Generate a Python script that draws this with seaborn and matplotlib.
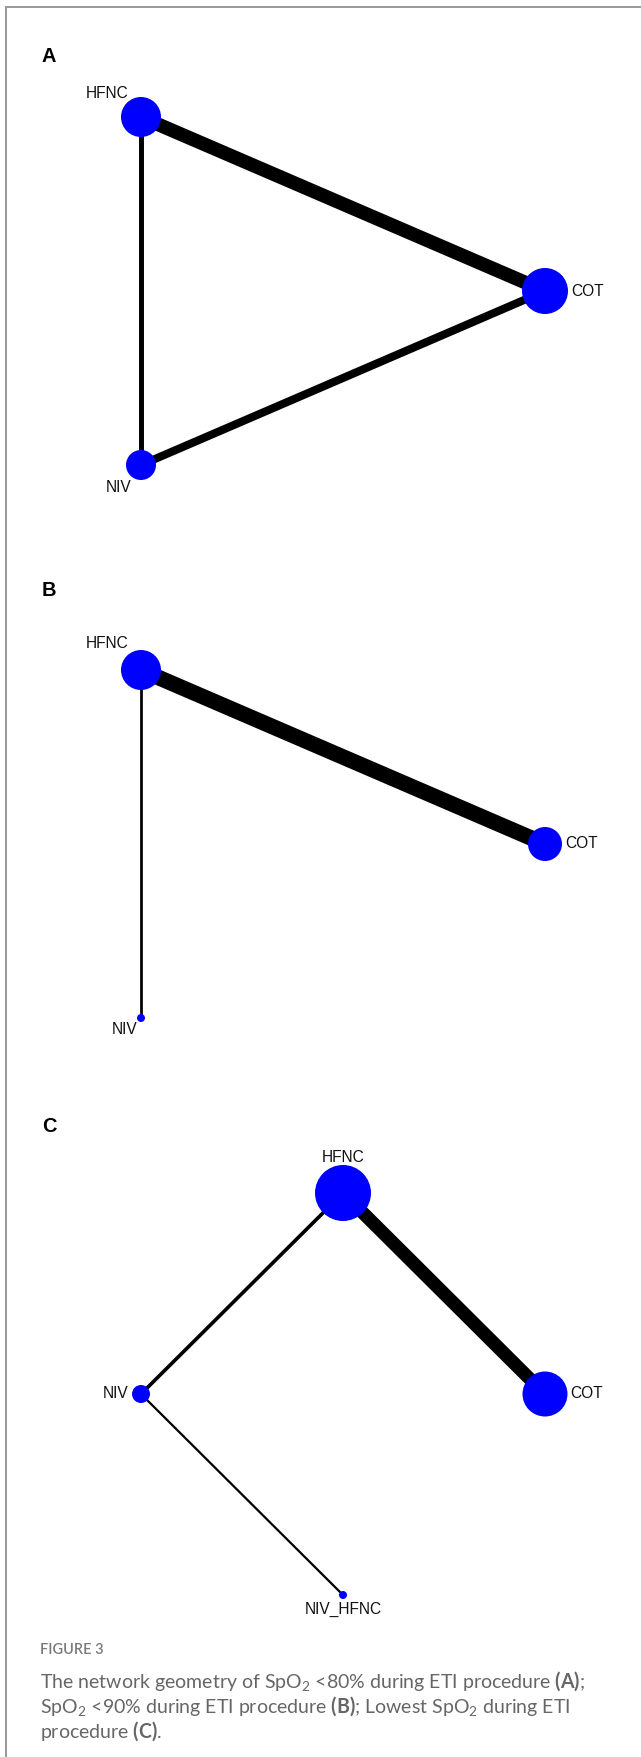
import pandas as pd
import seaborn as sns
import matplotlib.pyplot as plt
from matplotlib.patches import Rectangle

"""
Network geometry plots (three panels) redrawn from a netgraph-style figure.
Node size ~ sample size, edge width ~ amount of evidence between the pair.
"""

W, H = 641, 1757
DPI = 72  # 1 pt == 1 px, makes sizes easy to reason about

# ---- panel A: SpO2 <80%
a_nodes = ["HFNC", "COT", "NIV"]
a_x = [-0.5, 1.0, -0.5]
a_y = [0.866, 0.0, -0.866]
a_node_size = [2.0, 2.3, 1.5]
a_edge_from = ["HFNC", "HFNC", "NIV"]
a_edge_to = ["COT", "NIV", "COT"]
a_edge_weight = [5.3, 1.9, 3.1]

# ---- panel B: SpO2 <90%
b_nodes = ["HFNC", "COT", "NIV"]
b_x = [-0.5, 1.0, -0.5]
b_y = [0.866, 0.0, -0.866]
b_node_size = [2.0, 1.7, 0.4]
b_edge_from = ["HFNC", "HFNC"]
b_edge_to = ["COT", "NIV"]
b_edge_weight = [6.0, 1.05]

# ---- panel C: lowest SpO2
c_nodes = ["HFNC", "COT", "NIV", "NIV_HFNC"]
c_x = [0.0, 1.0, -1.0, 0.0]
c_y = [1.0, 0.0, 0.0, -1.0]
c_node_size = [2.8, 2.25, 0.9, 0.4]
c_edge_from = ["HFNC", "HFNC", "NIV"]
c_edge_to = ["COT", "NIV", "NIV_HFNC"]
c_edge_weight = [5.1, 1.4, 0.85]

caption_head = "FIGURE 3"
caption_lines = [
    r"The network geometry of SpO$_2$ <80% during ETI procedure $\mathbf{(A)}$;",
    r"SpO$_2$ <90% during ETI procedure $\mathbf{(B)}$; Lowest SpO$_2$ during ETI",
    r"procedure $\mathbf{(C)}$.",
]

# scale factors (px per unit)
NODE_PX = 10.0
EDGE_PX = 2.6

sns.set_theme(style="white")
plt.rcParams['font.family'] = ['Liberation Sans', 'DejaVu Sans']
plt.rcParams['mathtext.fontset'] = 'custom'
plt.rcParams['mathtext.rm'] = 'Lato'
plt.rcParams['mathtext.it'] = 'Lato:italic'
plt.rcParams['mathtext.bf'] = 'Lato:bold'

fig = plt.figure(figsize=(W / DPI, H / DPI), dpi=DPI)
fig.patch.set_facecolor("white")


def px_axes(x0, y0, x1, y1):
    # axes from a pixel box, top-left origin
    return fig.add_axes([x0 / W, 1 - y1 / H, (x1 - x0) / W, (y1 - y0) / H])


def draw_network(box, nodes, xs, ys, sizes, e_from, e_to, e_w, label_offsets):
    ax = px_axes(*box)
    nodes_df = pd.DataFrame({"node": nodes, "x": xs, "y": ys, "size": sizes})
    pos = nodes_df.set_index("node")

    # edges first so nodes sit on top
    for f, t, w in zip(e_from, e_to, e_w):
        seg = pd.DataFrame({"x": [pos.loc[f, "x"], pos.loc[t, "x"]],
                            "y": [pos.loc[f, "y"], pos.loc[t, "y"]]})
        line = sns.lineplot(data=seg, x="x", y="y", sort=False, estimator=None,
                            color="black", linewidth=w * EDGE_PX, ax=ax)
        for ln in line.get_lines():
            ln.set_solid_capstyle("butt")
            ln.set_clip_on(False)

    areas = [(2 * s * NODE_PX) ** 2 for s in nodes_df["size"]]
    sc = sns.scatterplot(data=nodes_df, x="x", y="y", s=areas, color="#0000ff",
                         edgecolor="none", linewidth=0, legend=False, ax=ax, zorder=3)
    for coll in sc.collections:
        coll.set_clip_on(False)

    for name in nodes:
        dx, dy, ha = label_offsets[name]
        ax.annotate(name, (pos.loc[name, "x"], pos.loc[name, "y"]),
                    xytext=(dx, dy), textcoords="offset points",
                    ha=ha, va="center", fontsize=15.5, color="#111111",
                    annotation_clip=False)

    ax.set_xlim(min(xs), max(xs))
    ax.set_ylim(min(ys), max(ys))
    ax.set_axis_off()
    return ax


draw_network((141, 117, 545, 465), a_nodes, a_x, a_y, a_node_size,
             a_edge_from, a_edge_to, a_edge_weight,
             {"HFNC": (-12, 24, "right"), "COT": (26, 0, "left"),
              "NIV": (-9, -23, "right")})

draw_network((141, 670, 545, 1018), b_nodes, b_x, b_y, b_node_size,
             b_edge_from, b_edge_to, b_edge_weight,
             {"HFNC": (-12, 26, "right"), "COT": (20, 0, "left"),
              "NIV": (-3, -12, "right")})

draw_network((141, 1193, 545, 1595), c_nodes, c_x, c_y, c_node_size,
             c_edge_from, c_edge_to, c_edge_weight,
             {"HFNC": (0, 36, "center"), "COT": (25, 0, "left"),
              "NIV": (-12, 0, "right"), "NIV_HFNC": (0, -14, "center")})

# panel letters
for letter, ypx in zip(["A", "B", "C"], [56, 590, 1127]):
    fig.text(42 / W, 1 - ypx / H, letter, fontsize=20, fontweight="bold",
             ha="left", va="center", color="black")

# caption
fig.text(40 / W, 1 - 1650 / H, caption_head, fontsize=14.5, color="#7a7a7a",
         family=["Lato", "DejaVu Sans"], fontweight="semibold", ha="left", va="center")
for i, line in enumerate(caption_lines):
    fig.text(40 / W, 1 - (1681 + i * 25) / H, line, fontsize=19.5, color="#666666",
             family=["Lato", "DejaVu Sans"], ha="left", va="center")

# frame of the original figure (only left and top visible)
fig.add_artist(Rectangle((6 / W, -0.05), 1.2, (H - 7) / H + 0.05,
                         transform=fig.transFigure, fill=False,
                         edgecolor="#9a9a9a", linewidth=2, clip_on=False))

fig.savefig("out.png", dpi=DPI, facecolor="white")
